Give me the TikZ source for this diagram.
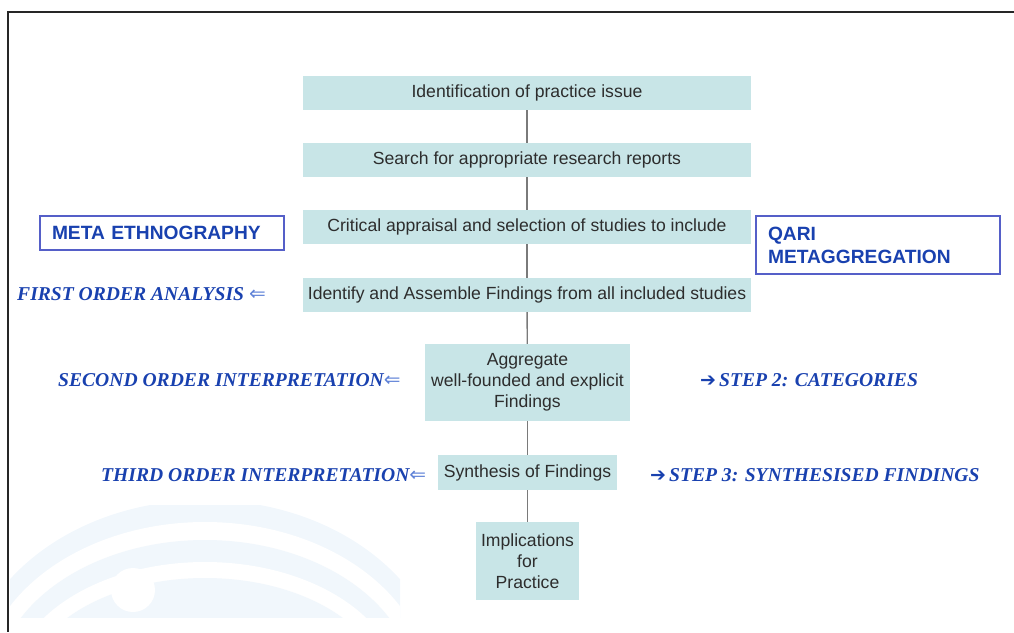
\documentclass[tikz,border=0pt]{standalone}
\usepackage{fontspec}
\setmainfont{Liberation Sans}
\newfontfamily\tnr{Liberation Serif}
\newfontfamily\dvs{DejaVu Sans}
\definecolor{boxfill}{RGB}{200,229,231}
\definecolor{lblue}{RGB}{25,65,175}
\definecolor{arrblue}{RGB}{95,130,215}
\definecolor{frameblue}{RGB}{85,95,200}
\definecolor{wm}{RGB}{241,247,252}
\definecolor{boxtext}{RGB}{45,45,45}
\newcommand\leftarr{{\dvs\mdseries\upshape\fontsize{20}{22}\selectfont\color{arrblue}⇐}}
\newcommand\rightarr{{\dvs\mdseries\upshape\fontsize{19}{22}\selectfont ➔}\hspace{3pt}}
\tikzset{
  stepbox/.style={fill=boxfill, text=boxtext, font=\fontsize{17.6}{21}\selectfont, inner sep=0pt, align=center},
  lbl/.style={text=lblue, font=\tnr\bfseries\itshape\fontsize{19.6}{24}\selectfont, inner sep=0pt},
  methbox/.style={draw=frameblue, line width=1.3pt, text=lblue, font=\bfseries\fontsize{19.2}{23}\selectfont,
    inner xsep=12pt, inner ysep=0pt, text width=220pt, align=left, minimum width=244pt},
  conn/.style={draw=black!52, line width=1.4pt}
}
\begin{document}
\begin{tikzpicture}[x=1pt,y=-1pt]
\useasboundingbox (0,0) rectangle (1014,632);
% frame
\draw[black!85, line width=1.5pt] (1014,12) -- (8,12) -- (8,632);
% watermark
\begin{scope}
\clip (10,505) rectangle (400,617);
\fill[wm] (205,690) ellipse [x radius=240, y radius=190];
\fill[white] (205,690) ellipse [x radius=225, y radius=168];
\fill[wm] (205,690) ellipse [x radius=210, y radius=150];
\fill[white] (205,690) ellipse [x radius=195, y radius=128];
\fill[wm] (205,690) ellipse [x radius=180, y radius=112];
\fill[white] (133,590) circle [radius=22];
\end{scope}
% flow boxes
\node[stepbox, minimum width=448pt, minimum height=34pt] (b1) at (527,93) {Identification of practice issue};
\node[stepbox, minimum width=448pt, minimum height=34pt] (b2) at (527,160) {Search for appropriate research reports};
\node[stepbox, minimum width=448pt, minimum height=34pt] (b3) at (527,227) {Critical appraisal and selection of studies to include};
\node[stepbox, minimum width=448pt, minimum height=34pt] (b4) at (527,295) {Identify and Assemble Findings from all included studies};
\node[stepbox, minimum width=205pt, minimum height=77pt] (b5) at (527.5,382.5) {Aggregate\\well-founded and explicit\\Findings};
\node[stepbox, minimum width=179pt, minimum height=35pt] (b6) at (527.5,472.5) {Synthesis of Findings};
\node[stepbox, minimum width=103pt, minimum height=78pt] (b7) at (527.5,561) {Implications\\for\\Practice};
\draw[conn] (b1) -- (b2);
\draw[conn] (b2) -- (b3);
\draw[conn] (b3) -- (b4);
\draw[conn] (b4) -- (b5);
\draw[conn] (b5) -- (b6);
\draw[conn] (b6) -- (b7);
% method boxes
\node[methbox, minimum height=34pt] (meta) at (162,233) {META ETHNOGRAPHY};
\node[methbox, minimum height=58pt] (qari) at (878,245) {QARI\\METAGGREGATION};
% side labels
\node[lbl, anchor=west] (l1) at (17,294) {FIRST ORDER ANALYSIS \leftarr};
\node[lbl, anchor=west] (l2) at (58,380) {SECOND ORDER INTERPRETATION\leftarr};
\node[lbl, anchor=west] (l3) at (101,475) {THIRD ORDER INTERPRETATION\leftarr};
\node[lbl, anchor=west] (r2) at (700,380) {\rightarr STEP 2: CATEGORIES};
\node[lbl, anchor=west] (r3) at (650,475) {\rightarr STEP 3: SYNTHESISED FINDINGS};
\end{tikzpicture}
\end{document}
